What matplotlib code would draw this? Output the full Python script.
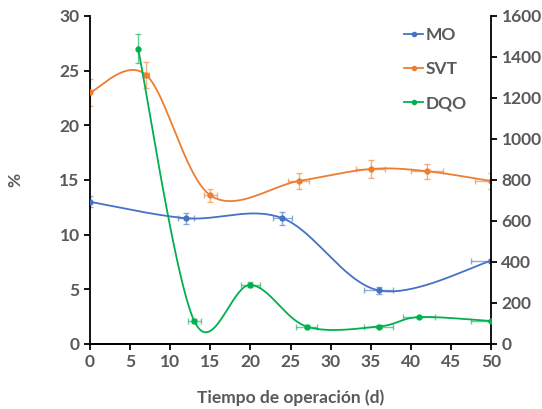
import numpy as np
import matplotlib
matplotlib.use("Agg")
import matplotlib.pyplot as plt

# datos
mo_x = [0, 12, 24, 36, 50]
mo_y = [13.0, 11.5, 11.5, 4.9, 7.6]
mo_xerr = [0, 1.0, 1.2, 1.8, 2.5]
mo_yerr = [0.5, 0.5, 0.6, 0.3, 0.2]

svt_x = [0, 7, 15, 26, 35, 42, 50]
svt_y = [23.0, 24.6, 13.6, 14.9, 16.0, 15.8, 14.9]
svt_xerr = [0, 0.3, 0.8, 1.3, 1.8, 2.0, 2.0]
svt_yerr = [1.2, 1.2, 0.6, 0.7, 0.8, 0.7, 0.7]

dqo_x = [6, 13, 20, 27, 36, 41, 50]
dqo_y = [1440, 112, 288, 85, 85, 131, 112]
dqo_xerr = [0, 0.8, 1.2, 1.3, 1.8, 2.0, 2.5]
dqo_yerr = [70, 8, 12, 6, 6, 6, 6]

C_MO, C_SVT, C_DQO = '#4472C4', '#ED7D31', '#00B050'
GRIS = '#595959'


def suavizar(x, y, n=40):
    # curva suavizada tipo Excel (Bezier con tangentes Catmull-Rom)
    p = np.column_stack([x, y]).astype(float)
    p = np.vstack([p[0], p, p[-1]])
    t = np.linspace(0, 1, n)[:, None]
    out = []
    for i in range(1, len(p) - 2):
        p0, p1, p2, p3 = p[i - 1], p[i], p[i + 1], p[i + 2]
        c1 = p1 + (p2 - p0) / 6
        c2 = p2 - (p3 - p1) / 6
        seg = ((1 - t) ** 3) * p1 + 3 * ((1 - t) ** 2) * t * c1 + 3 * (1 - t) * t ** 2 * c2 + t ** 3 * p2
        out.append(seg)
    s = np.vstack(out)
    return s[:, 0], s[:, 1]


plt.rcParams['font.family'] = ['Lato', 'DejaVu Sans']
plt.rcParams['font.weight'] = 'bold'

fig = plt.figure(figsize=(5.42, 4.09), dpi=100)
ax = fig.add_axes([0.166, 0.159, 0.74, 0.802])
ax2 = ax.twinx()

for a, xs, ys, xe, ye, c, lab in [
        (ax, mo_x, mo_y, mo_xerr, mo_yerr, C_MO, 'MO'),
        (ax, svt_x, svt_y, svt_xerr, svt_yerr, C_SVT, 'SVT'),
        (ax2, dqo_x, dqo_y, dqo_xerr, dqo_yerr, C_DQO, 'DQO')]:
    sx, sy = suavizar(xs, ys)
    a.plot(sx, sy, color=c, lw=1.3, zorder=3)
    a.errorbar(xs, ys, xerr=xe, yerr=ye, fmt='none', ecolor=c, alpha=0.6,
               elinewidth=1, capsize=2, zorder=2)
    a.plot(xs, ys, 'o', color=c, ms=3.5, zorder=4)

# leyenda
for lab, c in [('MO', C_MO), ('SVT', C_SVT), ('DQO', C_DQO)]:
    ax.plot([], [], '-o', color=c, ms=3, lw=1.3, label=lab)
leg = ax.legend(loc='upper left', bbox_to_anchor=(0.745, 1.015), frameon=False,
                handlelength=1.1, handletextpad=0.15, labelspacing=1.05,
                fontsize=12.5)
for t in leg.get_texts():
    t.set_color(GRIS)

ax.set_xlim(0, 50)
ax.set_ylim(0, 30)
ax2.set_ylim(0, 1600)
ax.set_xticks(range(0, 51, 5))
ax.set_yticks(range(0, 31, 5))
ax2.set_yticks(range(0, 1601, 200))

for a in (ax, ax2):
    a.spines['top'].set_visible(False)
    a.tick_params(colors=GRIS, labelsize=12.5, length=4, width=1.3, direction='out')
    a.tick_params(axis='both', which='both', color='black')
    for sp in a.spines.values():
        sp.set_linewidth(1.3)
        sp.set_color('black')
ax2.spines['left'].set_visible(False)
ax.spines['right'].set_visible(False)

ax.set_xlabel('Tiempo de operación (d)', color=GRIS, fontsize=12.5, fontweight='bold', labelpad=14)
ax.set_ylabel('%', color=GRIS, fontsize=12.5, fontweight='bold')
ax.yaxis.set_label_coords(-0.165, 0.5)

fig.savefig('out.png', dpi=100)
